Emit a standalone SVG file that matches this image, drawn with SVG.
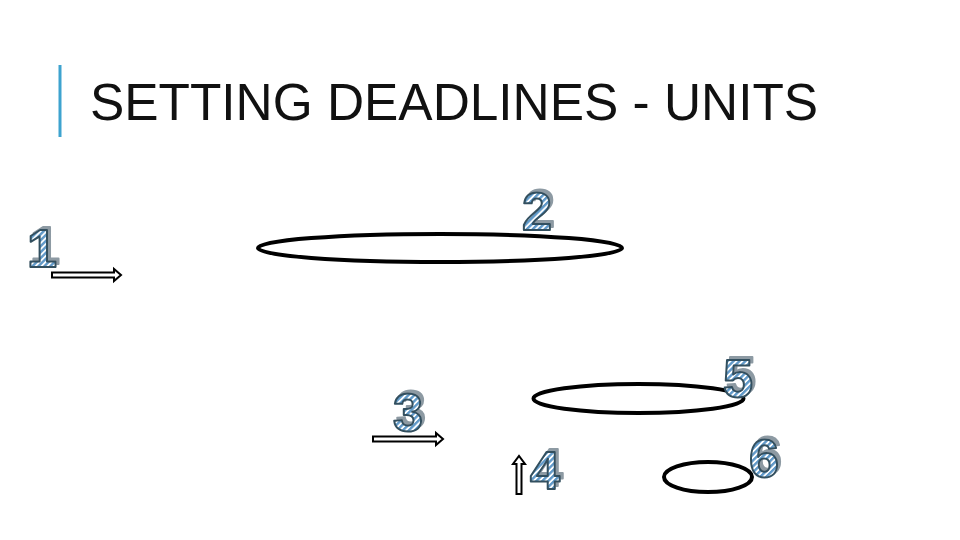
<svg xmlns="http://www.w3.org/2000/svg" width="960" height="540" viewBox="0 0 960 540">
<defs>
<pattern id="hatch" patternUnits="userSpaceOnUse" width="4.2" height="4.2" patternTransform="rotate(45)">
<rect width="4.2" height="4.2" fill="#ffffff"/>
<rect width="2.4" height="4.2" fill="#5e98c8"/>
</pattern>
<filter id="shade" x="-30%" y="-30%" width="160%" height="160%">
<feOffset in="SourceAlpha" dx="3" dy="-3" result="off"/>
<feFlood flood-color="#8d9aa3"/>
<feComposite operator="in" in2="off" result="sh"/>
<feMerge><feMergeNode in="sh"/><feMergeNode in="SourceGraphic"/></feMerge>
</filter>
</defs>
<style>
.title{font-family:"Liberation Sans",Arial,sans-serif;font-size:51.4px;fill:#111111}
.num{font-family:"Liberation Sans",Arial,sans-serif;font-size:54px;font-weight:bold;text-anchor:middle;fill:url(#hatch);stroke:#33505f;stroke-width:2;stroke-linejoin:round;filter:url(#shade)}
.oval{fill:none;stroke:#000000;stroke-width:4}
.arrow{fill:#ffffff;stroke:#000000;stroke-width:2;stroke-linejoin:miter}
</style>
<rect width="960" height="540" fill="#ffffff"/>
<g id="title">
<rect x="58.5" y="65" width="3" height="72" fill="#3ea3cf"/>
<text class="title" x="90" y="120">SETTING DEADLINES - UNITS</text>
</g>
<g id="oval-top"><ellipse class="oval" cx="440" cy="248" rx="182" ry="14"/></g>
<g id="oval-mid"><ellipse class="oval" cx="638.5" cy="398.5" rx="105" ry="14.5"/></g>
<g id="oval-small"><ellipse class="oval" cx="708" cy="477" rx="44" ry="15"/></g>
<g id="num-1"><text class="num" x="42" y="267">1</text></g>
<g id="num-2"><text class="num" x="537" y="230">2</text></g>
<g id="num-3"><text class="num" x="408" y="431">3</text></g>
<g id="num-4"><text class="num" x="545" y="489">4</text></g>
<g id="num-5"><text class="num" x="738" y="397">5</text></g>
<g id="num-6"><text class="num" x="764" y="477">6</text></g>
<g id="connectors">
<path class="arrow" d="M52,272.5 H114 V269 L121,275 L114,281 V277.5 H52 Z"/>
<path class="arrow" d="M373,436.5 H436 V433 L443,439 L436,445 V441.5 H373 Z"/>
<path class="arrow" d="M516.5,494 V464 H513 L519,456 L525,464 H521.5 V494 Z"/>
</g>
</svg>
